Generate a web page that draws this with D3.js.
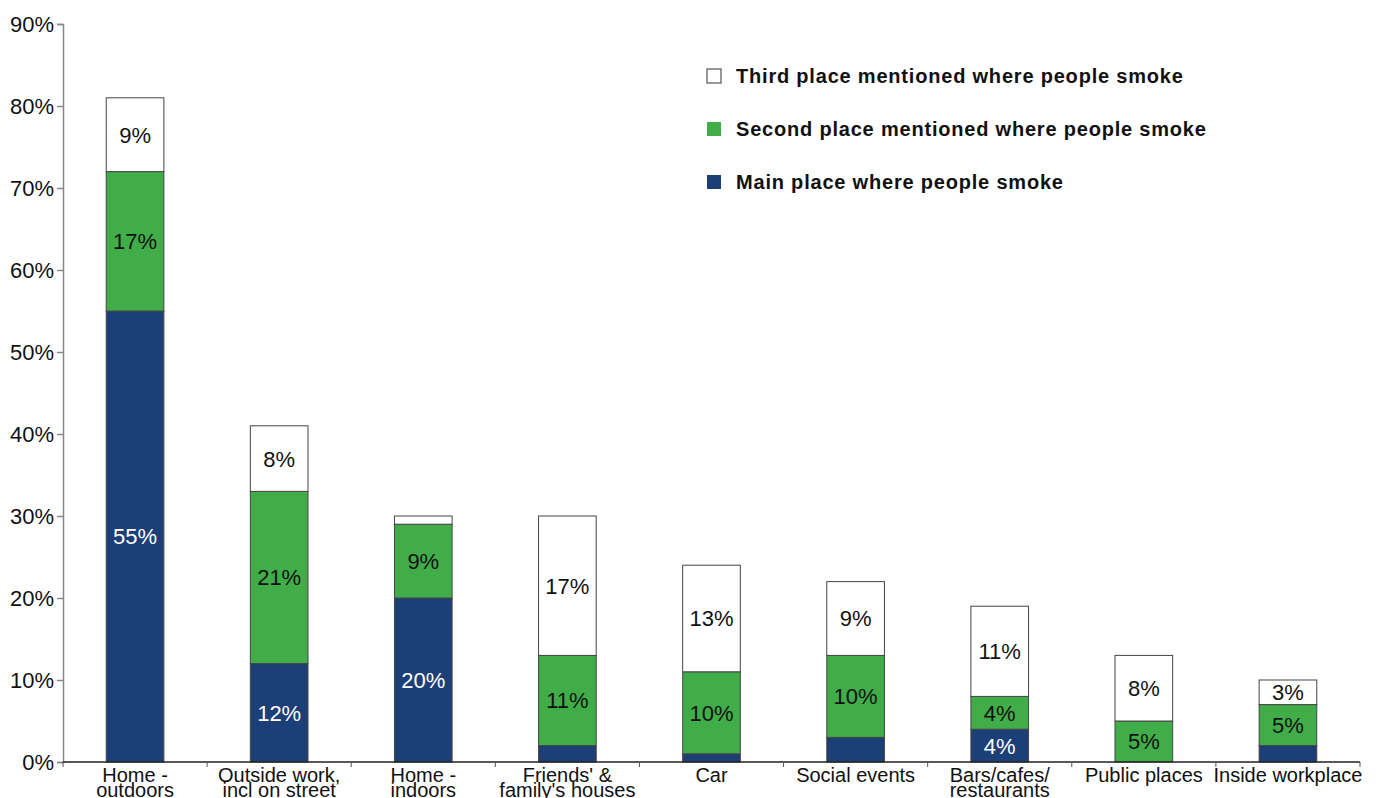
<!DOCTYPE html>
<html>
<head>
<meta charset="utf-8">
<script src="https://cdn.jsdelivr.net/npm/d3@7"></script>
<style>
  body { margin: 0; background: #fff; }
  text { font-family: "Liberation Sans", Arial, sans-serif; }
</style>
</head>
<body>
<div id="graph"></div>
<script>
// categories (two-line labels split by |)
var categories = ["Home -|outdoors", "Outside work,|incl on street", "Home -|indoors",
                  "Friends' &|family's houses", "Car", "Social events",
                  "Bars/cafes/|restaurants", "Public places", "Inside workplace"];

var mainPlace   = [55, 12, 20, 2, 1, 3, 4, 0, 2];
var secondPlace = [17, 21, 9, 11, 10, 10, 4, 5, 5];
var thirdPlace  = [9, 8, 1, 17, 13, 9, 11, 8, 3];

var seriesNames = ["Main place where people smoke",
                   "Second place mentioned where people smoke",
                   "Third place mentioned where people smoke"];

var yTicks = [0, 10, 20, 30, 40, 50, 60, 70, 80, 90];

function drawChart() {
    var width = 1379, height = 798;
    var margins = { top: 24, right: 19, bottom: 36, left: 63 };

    var colors = ["#1c3f78", "#41ad49", "#ffffff"];
    var textColors = ["#ffffff", "#111111", "#111111"];
    var minLabel = [4, 1, 3];   // small segments are left unlabelled

    var xScale = d3.scaleBand()
        .domain(categories)
        .range([margins.left, width - margins.right])
        .paddingInner(0.6)
        .paddingOuter(0.3);

    var yScale = d3.scaleLinear()
        .domain([0, 90])
        .range([height - margins.bottom, margins.top]);

    var svg = d3.select("#graph").append("svg")
        .attr("width", width)
        .attr("height", height);

    var rows = categories.map(function(c, i) {
        return { cat: c, main: mainPlace[i], second: secondPlace[i], third: thirdPlace[i] };
    });
    var stack = d3.stack().keys(["main", "second", "third"])(rows);

    var layers = svg.selectAll("g.layer")
        .data(stack)
        .enter().append("g")
        .attr("class", "layer");

    function segs(d) {
        return d.map(function(p) { return { p: p, k: d.index }; })
                .filter(function(s) { return s.p[1] - s.p[0] > 0; });
    }

    layers.selectAll("rect")
        .data(segs)
        .enter().append("rect")
        .attr("x", function(d) { return xScale(d.p.data.cat); })
        .attr("width", xScale.bandwidth())
        .attr("y", function(d) { return yScale(d.p[1]); })
        .attr("height", function(d) { return yScale(d.p[0]) - yScale(d.p[1]); })
        .attr("fill", function(d) { return colors[d.k]; })
        .attr("stroke", "#444")
        .attr("stroke-width", 1);

    // segment labels
    layers.selectAll("text.seg")
        .data(function(d) {
            return segs(d).filter(function(s) { return s.p[1] - s.p[0] >= minLabel[s.k]; });
        })
        .enter().append("text")
        .attr("class", "seg")
        .attr("x", function(d) { return xScale(d.p.data.cat) + xScale.bandwidth() / 2; })
        .attr("y", function(d) { return yScale((d.p[0] + d.p[1]) / 2); })
        .attr("dy", "0.36em")
        .style("text-anchor", "middle")
        .style("font-size", "22px")
        .style("fill", function(d) { return textColors[d.k]; })
        .text(function(d) { return (d.p[1] - d.p[0]) + "%"; });

    // Y-axis
    var yAxis = svg.append("g")
        .attr("transform", "translate(" + margins.left + ",0)")
        .call(d3.axisLeft(yScale).tickValues(yTicks).tickSize(6).tickPadding(3)
              .tickFormat(function(d) { return d + "%"; }));
    yAxis.selectAll("path, line").attr("stroke", "#888").attr("stroke-width", 1.5);
    yAxis.selectAll("text")
        .style("font-size", "22px")
        .style("fill", "#111")
        .style("font-family", "'Liberation Sans', Arial, sans-serif");

    // X-axis with tick marks between categories
    var y0 = yScale(0);
    var step = xScale.step();
    svg.append("line")
        .attr("x1", margins.left).attr("x2", width - margins.right)
        .attr("y1", y0).attr("y2", y0)
        .attr("stroke", "#222").attr("stroke-width", 1.5);

    svg.selectAll("line.xtick")
        .data(d3.range(categories.length + 1))
        .enter().append("line")
        .attr("class", "xtick")
        .attr("x1", function(i) { return margins.left + i * step; })
        .attr("x2", function(i) { return margins.left + i * step; })
        .attr("y1", y0).attr("y2", y0 + 5)
        .attr("stroke", "#555").attr("stroke-width", 1);

    // category labels
    var catLabels = svg.selectAll("text.cat")
        .data(categories)
        .enter().append("text")
        .attr("class", "cat")
        .attr("x", function(d) { return xScale(d) + xScale.bandwidth() / 2; })
        .attr("y", y0 + 20)
        .style("text-anchor", "middle")
        .style("font-size", "20px")
        .style("fill", "#111");

    catLabels.each(function(d) {
        var parts = d.split("|");
        var t = d3.select(this);
        parts.forEach(function(p, j) {
            t.append("tspan")
                .attr("x", xScale(d) + xScale.bandwidth() / 2)
                .attr("dy", j === 0 ? 0 : 15)
                .text(p);
        });
    });

    // legend
    var legendOrder = [2, 1, 0];
    var legend = svg.selectAll("g.legend")
        .data(legendOrder)
        .enter().append("g")
        .attr("class", "legend")
        .attr("transform", function(d, i) { return "translate(707," + (69 + i * 53) + ")"; });

    legend.append("rect")
        .attr("width", 14).attr("height", 14)
        .attr("fill", function(d) { return colors[d]; })
        .attr("stroke", function(d) { return d === 2 ? "#333" : "none"; });

    legend.append("text")
        .attr("x", 29)
        .attr("y", 7)
        .attr("dy", "0.36em")
        .style("font-size", "20px")
        .style("font-weight", "bold")
        .style("letter-spacing", "0.8px")
        .style("fill", "#111")
        .text(function(d) { return seriesNames[d]; });
}

drawChart();
</script>
</body>
</html>
